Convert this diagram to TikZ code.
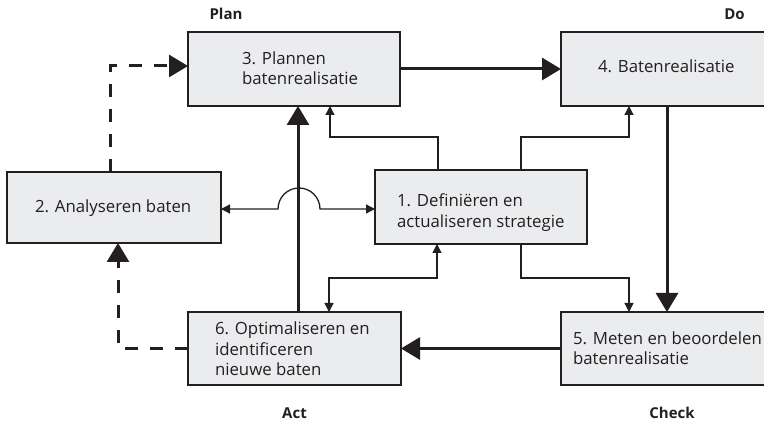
\documentclass[tikz,border=0pt]{standalone}
\usepackage{fontspec}
\setmainfont{Open Sans}
\usetikzlibrary{arrows.meta}
\definecolor{ink}{RGB}{35,31,32}
\definecolor{boxfill}{RGB}{235,236,238}
\begin{document}
\begin{tikzpicture}[x=1pt,y=-1pt,
  every node/.style={inner sep=0pt, outer sep=0pt},
  stage/.style={draw=ink, fill=boxfill, line width=1.5pt, minimum width=212pt, minimum height=74pt},
  txt/.style={font=\fontsize{16.8pt}{20.5pt}\selectfont, text=ink, align=left, anchor=base west},
  phase/.style={font=\bfseries\fontsize{15pt}{18pt}\selectfont, text=ink, anchor=base},
  flow/.style={draw=ink, line width=3pt, -{Triangle[length=19pt,width=22pt]}},
  loop/.style={flow, dash pattern=on 13pt off 12pt},
  link/.style={draw=ink, line width=1.3pt, -{Triangle[length=9pt,width=9pt]}},
  linkboth/.style={draw=ink, line width=1.3pt, {Triangle[length=9pt,width=9pt]}-{Triangle[length=9pt,width=9pt]}},
]
\useasboundingbox (0,0) rectangle (764,422);
\clip (0,0) rectangle (764,422);

% stages of the cycle
\node[stage] (b3) at (294,69) {};
\node[stage] (b4) at (667,69) {};
\node[stage, minimum height=71pt, minimum width=214pt] (b2) at (114,207.5) {};
\node[stage] (b1) at (481,207) {};
\node[stage, minimum height=73pt, minimum width=213pt] (b6) at (294.5,348.5) {};
\node[stage, minimum height=73pt] (b5) at (667,348.5) {};

% stage texts (base anchor sits on the last line)
\node[txt] (t3) at (242,85) {3. Plannen\\batenrealisatie};
\node[txt] (t4) at (598,73) {4. Batenrealisatie};
\node[txt] (t2) at (35,213) {2. Analyseren baten};
\node[txt] (t1) at (397,227.5) {1. Definiëren en\\actualiseren strategie};
\node[txt] (t6) at (215,376) {6. Optimaliseren en\\identificeren\\nieuwe baten};
\node[txt] (t5) at (573,364.5) {5. Meten en beoordelen\\batenrealisatie};

% PDCA phases
\node[phase] (plan) at (226,20) {Plan};
\node[phase] (do) at (734.5,20) {Do};
\node[phase] (act) at (294.5,418) {Act};
\node[phase] (check) at (672,418) {Check};

% routing points
\coordinate (up) at (298,0);
\coordinate (d1) at (110,66);
\coordinate (d2) at (118,0);
\coordinate (ja) at (438,137);
\coordinate (jb) at (330,137);
\coordinate (jc) at (521,137);
\coordinate (jd) at (629,137);
\coordinate (ke) at (521,278);
\coordinate (kf) at (629,278);
\coordinate (kg) at (329,278);
\coordinate (kh) at (437,278);
\coordinate (hop) at (0,209);
\coordinate (hopL) at (278,209);

% main cycle
\draw[flow] (b3.east) -- (b4.west);
\draw[flow] (b4.south) -- (b5.north);
\draw[flow] (b5.west) -- (b6.east);
\draw[flow] (b6.north -| up) -- (b3.south -| up);

% feedback loops
\draw[loop] (b2.north -| d1) |- (d1 -| b3.west);
\draw[loop] (b6.west) -| (b2.south -| d2);

% strategy links
\draw[link] (b1.north -| ja) |- (jb) -- (b3.south -| jb);
\draw[link] (b1.north -| jc) |- (jd) -- (b4.south -| jd);
\draw[link] (b1.south -| ke) |- (kf) -- (b5.north -| kf);
\draw[linkboth] (b6.north -| kg) |- (kh) -- (b1.south -| kh);
\draw[linkboth] (b2.east |- hop) -- (hopL) arc[start angle=180, end angle=0, radius=21pt] -- (b1.west |- hop);
\end{tikzpicture}
\end{document}
